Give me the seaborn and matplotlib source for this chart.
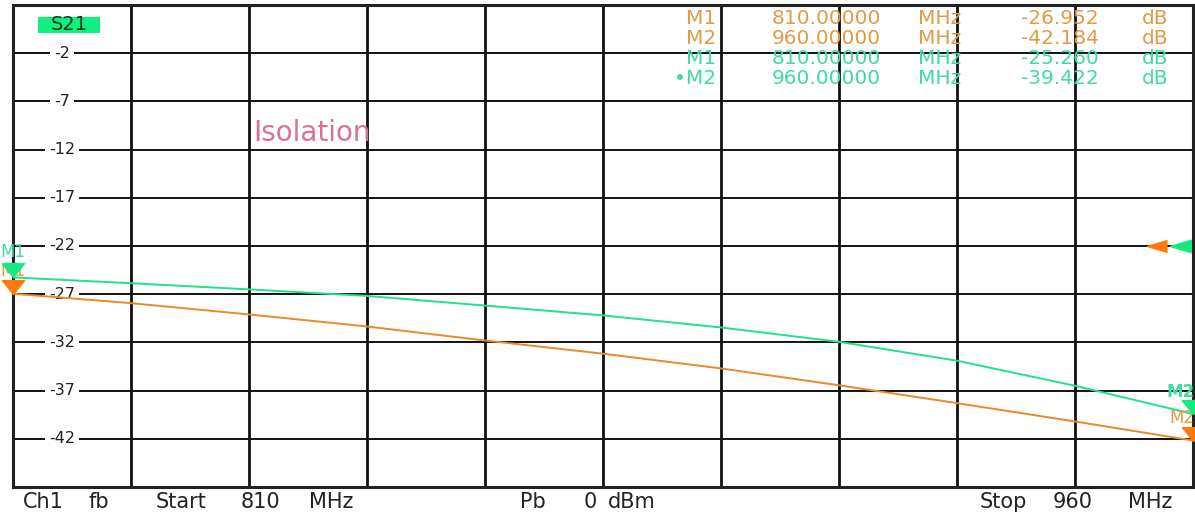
import matplotlib
matplotlib.use("Agg")
from matplotlib import pyplot as plt, transforms
from matplotlib.path import Path
from matplotlib.patches import Rectangle
import seaborn as sns
import pandas as pd

# sweep points (MHz) and S21 readings (dB) for both traces
freq_mhz = [810, 825, 840, 855, 870, 885, 900, 915, 930, 945, 960]
s21_orange = [-26.95, -27.93, -29.1, -30.35, -31.8, -33.17, -34.7, -36.45, -38.3, -40.2, -42.18]
s21_green = [-25.26, -25.86, -26.5, -27.18, -28.18, -29.2, -30.45, -31.94, -33.9, -36.5, -39.42]

y_ticks = [-2, -7, -12, -17, -22, -27, -32, -37, -42]
marker_names = ["M1", "M2", "M1", "\u2022M2"]
marker_freqs = ["810.00000", "960.00000", "810.00000", "960.00000"]
marker_vals = ["-26.952", "-42.184", "-25.260", "-39.422"]
marker_trace = ["orange", "orange", "green", "green"]

# status line words with their centre (pixels)
status_words = [("Ch1", 43), ("fb", 99), ("Start", 181), ("810", 260), ("MHz", 331),
                ("Pb", 533), ("0", 590), ("dBm", 632),
                ("Stop", 1003), ("960", 1073), ("MHz", 1150)]

ORANGE = "#e8892a"
ORANGE_MK = "#ff7a0a"
ORANGE_TXT = "#e39a45"
GREEN = "#22e08e"
GREEN_MK = "#14ea80"
GREEN_TXT = "#3fdca0"
INK = "#222222"

sns.set_style("white")
plt.rcParams["font.family"] = ["DejaVu Sans"]

W, H = 1195, 512
fig = plt.figure(figsize=(W / 100, H / 100), dpi=100)
ax = fig.add_axes([13 / W, 25 / H, 1180 / W, 482 / H])

df = pd.DataFrame({
    "freq": freq_mhz * 2,
    "s21": s21_orange + s21_green,
    "trace": ["Trc1"] * len(freq_mhz) + ["Trc2"] * len(freq_mhz),
})
sns.lineplot(data=df, x="freq", y="s21", hue="trace",
             palette={"Trc1": ORANGE, "Trc2": GREEN},
             linewidth=1.4, legend=False, ax=ax, zorder=4)

ax.set_xlim(810, 960)
ax.set_ylim(-47, 3)
ax.set_xticks([810 + 15 * i for i in range(11)])
ax.set_yticks([-47 + 5 * i for i in range(11)])
ax.tick_params(length=0, labelbottom=False, labelleft=False)
ax.set_xlabel("")
ax.set_ylabel("")
ax.set_axisbelow(True)
ax.xaxis.grid(True, color="#111111", linewidth=2.0)
ax.yaxis.grid(True, color="#111111", linewidth=1.4)
for sp in ax.spines.values():
    sp.set_color(INK)
    sp.set_linewidth(2.2)


def px_x(x):
    # figure pixel -> axes fraction
    return (x - 13) / 1180


def px_y(y):
    return 1 - (y - 5) / 482


# y labels sit inside the first column, over the grid lines
blend = transforms.blended_transform_factory(ax.transAxes, ax.transData)
for v in y_ticks:
    ax.text(px_x(62), v, str(v), transform=blend, ha="center", va="center",
            fontsize=11.5, color=INK, zorder=3,
            bbox=dict(facecolor="white", edgecolor="none", pad=3))

# channel label and title
ax.add_patch(Rectangle((px_x(38), px_y(33)), 62 / 1180, 16 / 482, transform=ax.transAxes,
                       facecolor="#10f080", edgecolor="none", zorder=5))
ax.text(px_x(69), px_y(25), "S21", transform=ax.transAxes, ha="center", va="center",
        fontsize=14, color="#0a3a20", zorder=6)
ax.text(px_x(253), px_y(133), "Isolation", transform=ax.transAxes, ha="left", va="center",
        fontsize=20, color="#d8709a", zorder=6)

# marker table, each column centred where the reference puts it
row_y = [19, 39, 59, 79]
for name, f, val, col, yy in zip(marker_names, marker_freqs, marker_vals, marker_trace, row_y):
    c = ORANGE_TXT if col == "orange" else GREEN_TXT
    y = px_y(yy)
    ax.text(px_x(716), y, name, transform=ax.transAxes, ha="right", va="center",
            fontsize=14.5, color=c, zorder=6)
    for word, cx in [(f, 826), ("MHz", 940), (val, 1060), ("dB", 1155)]:
        ax.text(px_x(cx), y, word, transform=ax.transAxes, ha="center", va="center",
                fontsize=14.5, color=c, zorder=6)

# trace markers: triangle tip sits on the trace
tri_down = Path([(-0.8, 1.0), (0.8, 1.0), (0.0, 0.0), (-0.8, 1.0)])
for xs, ys, mk in [(freq_mhz, s21_orange, ORANGE_MK), (freq_mhz, s21_green, GREEN_MK)]:
    ax.plot([xs[0], xs[-1]], [ys[0], ys[-1]], linestyle="none", marker=tri_down,
            markersize=20, color=mk, clip_on=False, zorder=7)

ax.annotate("M1", (freq_mhz[0], s21_orange[0]), xytext=(0, 16), textcoords="offset points",
            ha="center", va="center", fontsize=12, color=ORANGE_TXT, zorder=6, annotation_clip=False)
ax.annotate("M1", (freq_mhz[0], s21_green[0]), xytext=(0, 18), textcoords="offset points",
            ha="center", va="center", fontsize=12, color=GREEN_TXT, zorder=8, annotation_clip=False)
ax.annotate("M2", (freq_mhz[-1], s21_orange[-1]), xytext=(1, 16), textcoords="offset points",
            ha="right", va="center", fontsize=12, color=ORANGE_TXT, zorder=6, annotation_clip=False)
ax.annotate("M2", (freq_mhz[-1], s21_green[-1]), xytext=(1, 16), textcoords="offset points",
            ha="right", va="center", fontsize=12, color=GREEN_TXT, fontweight="bold",
            zorder=8, annotation_clip=False)

# reference level arrows on the right edge
tri_left = Path([(0.0, 0.0), (1.0, -0.3), (1.0, 0.3), (0.0, 0.0)])
ax.plot([px_x(1147)], [-22], transform=blend, linestyle="none", marker=tri_left,
        markersize=28, color=ORANGE_MK, clip_on=False, zorder=7)
ax.plot([px_x(1170)], [-22], transform=blend, linestyle="none", marker=tri_left,
        markersize=30, color=GREEN_MK, clip_on=False, zorder=7)

# status line under the grid
for word, cx in status_words:
    fig.text(cx / W, 9.5 / H, word, ha="center", va="center", fontsize=15, color=INK)

fig.savefig("out.png", dpi=100)
